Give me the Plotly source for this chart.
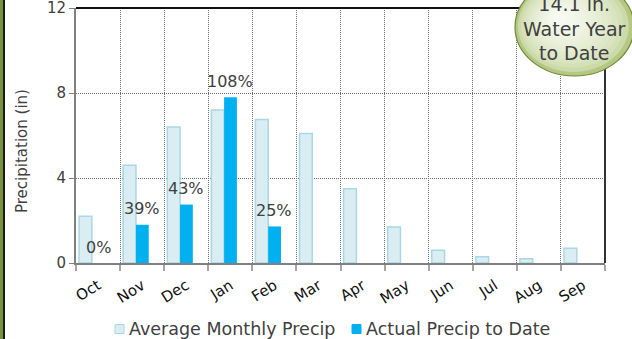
import plotly.graph_objects as go

# Water-year precipitation summary
months = ["Oct", "Nov", "Dec", "Jan", "Feb", "Mar", "Apr", "May", "Jun", "Jul", "Aug", "Sep"]
avg_precip = [2.2, 4.6, 6.4, 7.2, 6.75, 6.1, 3.5, 1.7, 0.6, 0.3, 0.2, 0.7]
actual_precip = [0.0, 1.8, 2.75, 7.8, 1.72]  # Oct..Feb so far
y_ticks = [0, 4, 8, 12]
series_names = ["Average Monthly Precip", "Actual Precip to Date"]

W, H = 632, 339
L, R, T, B = 76, 27, 8, 76
PW, PH = W - L - R, H - T - B


def px(x):
    return (x - L) / PW


def py(y):
    return (H - B - y) / PH


FONT = "DejaVu Sans"
TXT = "#404040"
AVG_FILL, AVG_LINE = "#daedf3", "#a9d7e5"
ACT_FILL = "#00b0f0"
GRID = "#6e6e6e"

fig = go.Figure()
fig.add_trace(go.Bar(
    x=months, y=avg_precip, name=series_names[0],
    marker=dict(color=AVG_FILL, line=dict(color=AVG_LINE, width=1.5)),
    offset=-0.43, width=0.29,
))
fig.add_trace(go.Bar(
    x=months[:len(actual_precip)], y=actual_precip, name=series_names[1],
    marker=dict(color=ACT_FILL, line=dict(width=0)),
    offset=-0.14, width=0.29,
))

# percent-of-average labels above the actual bars
for m, a, v in zip(months, avg_precip, actual_precip):
    fig.add_annotation(x=m, y=v, text=f"{round(v / a * 100)}%", showarrow=False,
                       yshift=16, font=dict(family=FONT, size=16, color=TXT))

shapes = []
# left page border
shapes.append(dict(type="rect", xref="paper", yref="paper", x0=px(0), x1=px(3), y0=py(H + 2), y1=py(-2),
                   fillcolor="#76923c", line=dict(width=0), layer="above"))
shapes.append(dict(type="rect", xref="paper", yref="paper", x0=px(3), x1=px(5), y0=py(H + 2), y1=py(-2),
                   fillcolor="#1a1a1a", line=dict(width=0), layer="above"))
# plot frame (top and right)
shapes.append(dict(type="line", xref="paper", yref="paper", x0=0, x1=1, y0=1, y1=1,
                   line=dict(color="#111111", width=2), layer="above"))
shapes.append(dict(type="line", xref="paper", yref="paper", x0=1, x1=1, y0=0, y1=1,
                   line=dict(color="#333333", width=2), layer="above"))

# legend drawn as swatches + labels along the bottom
legend_items = [(series_names[0], AVG_FILL, AVG_LINE, 115), (series_names[1], ACT_FILL, ACT_FILL, 352)]
for name, fill, edge, x_left in legend_items:
    shapes.append(dict(type="rect", xref="paper", yref="paper",
                       x0=px(x_left), x1=px(x_left + 9), y0=py(333.5), y1=py(324.5),
                       fillcolor=fill, line=dict(color=edge, width=1), layer="above"))
    fig.add_annotation(xref="paper", yref="paper", x=px(x_left + 12), y=py(329), text=name,
                       showarrow=False, xanchor="left", yanchor="middle",
                       font=dict(family=FONT, size=17.5, color=TXT))

# water-year badge: layered ellipses for a soft radial shade
ex0, ex1, ey0, ey1 = 515, 634, -22, 76
cx_out, cy_out = (ex0 + ex1) / 2, (ey0 + ey1) / 2
rx_out, ry_out = (ex1 - ex0) / 2, (ey1 - ey0) / 2
cx_in, cy_in = 560, 18
c_out = (180, 200, 130)
c_in = (248, 250, 242)
n = 14
for i in range(n):
    t = i / (n - 1)
    s = 1 - 0.9 * t
    cx = cx_out + (cx_in - cx_out) * t
    cy = cy_out + (cy_in - cy_out) * t
    rx, ry = rx_out * s, ry_out * s
    col = tuple(round(c_out[k] + (c_in[k] - c_out[k]) * (t ** 0.4)) for k in range(3))
    shapes.append(dict(type="circle", xref="paper", yref="paper",
                       x0=px(cx - rx), x1=px(cx + rx), y0=py(cy + ry), y1=py(cy - ry),
                       fillcolor=f"rgb{col}",
                       line=dict(color="#6f8a3a", width=1.2) if i == 0 else dict(width=0),
                       layer="above"))

fig.add_annotation(xref="paper", yref="paper", x=px(574), y=py(28),
                   text=f"{sum(actual_precip):.1f} in.<br>Water Year<br>to Date",
                   showarrow=False, font=dict(family=FONT, size=19, color=TXT),
                   xanchor="center", yanchor="middle")

# y-axis title placed in the left margin
fig.add_annotation(xref="paper", yref="paper", x=px(22), y=py(151), text="Precipitation (in)",
                   textangle=-90, showarrow=False, xanchor="center", yanchor="middle",
                   font=dict(family=FONT, size=15, color=TXT))

fig.update_layout(
    width=W, height=H,
    margin=dict(l=L, r=R, t=T, b=B, autoexpand=False),
    paper_bgcolor="white", plot_bgcolor="white",
    barmode="overlay",
    showlegend=False,
    font=dict(family=FONT, color=TXT),
    shapes=shapes,
)
fig.update_xaxes(
    type="category", tickson="boundaries", showline=True, linecolor="#808080", linewidth=2,
    ticks="outside", ticklen=6, tickcolor="#a6a6a6", tickwidth=1.5,
    showgrid=True, gridcolor=GRID, griddash="1px,1px", gridwidth=1,
    tickangle=-32, tickfont=dict(family=FONT, size=15, color="#111111"),
    ticklabelstandoff=6, automargin=False,
    range=[-0.5, 11.5],
)
fig.update_yaxes(
    range=[0, 12], tickvals=y_ticks, showline=True, linecolor="#808080", linewidth=2,
    ticks="outside", ticklen=5, tickcolor="#808080",
    showgrid=True, gridcolor=GRID, griddash="1px,1px", gridwidth=1, zeroline=False,
    tickfont=dict(family=FONT, size=15, color=TXT), ticklabeloverflow="allow",
    automargin=False,
)

fig.write_html("out.html")
